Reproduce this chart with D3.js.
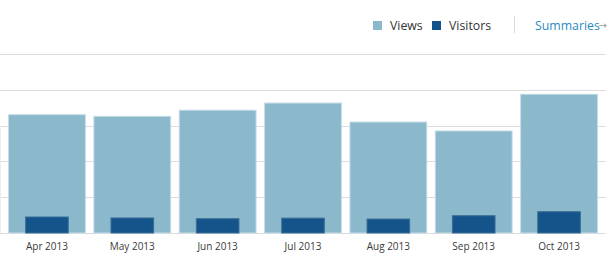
<!DOCTYPE html>
<html lang="en">
<head>
    <meta charset="UTF-8">
    <title>Views and Visitors</title>
    <script src="https://cdn.jsdelivr.net/npm/d3@7"></script>
    <style>
        body { margin: 0; background: #fff; }
        text { font-family: "Open Sans", sans-serif; }
    </style>
</head>
<body>
    <svg width="611" height="258" id="mainsvg"></svg>
    <script>
        // data
        const months = ['Apr 2013', 'May 2013', 'Jun 2013', 'Jul 2013', 'Aug 2013', 'Sep 2013', 'Oct 2013'];
        const views = [3305, 3260, 3430, 3630, 3100, 2850, 3875];
        const visitors = [447, 420, 400, 415, 390, 483, 595];
        const gridTicks = [0, 1000, 2000, 3000, 4000, 5000];

        const svg = d3.select('#mainsvg');
        const plot = { left: 0, right: 606, top: 54, bottom: 233 };

        const xScale = d3.scaleBand().domain(months)
            .range([plot.left, plot.right]).paddingInner(0.1).paddingOuter(0.1);
        const yScale = d3.scaleLinear().domain([0, 5000]).range([plot.bottom, plot.top]);

        // grid
        svg.append('g').selectAll('line').data(gridTicks).join('line')
            .attr('x1', plot.left).attr('x2', plot.right)
            .attr('y1', d => Math.round(yScale(d)) + 0.5).attr('y2', d => Math.round(yScale(d)) + 0.5)
            .attr('stroke', '#dcdcdc').attr('stroke-width', 1);
        svg.append('line').attr('x1', 0.5).attr('x2', 0.5)
            .attr('y1', yScale(3000)).attr('y2', plot.bottom)
            .attr('stroke', '#ececec');

        // views bars
        const bw = xScale.bandwidth();
        svg.append('g').selectAll('rect').data(months).join('rect')
            .attr('x', d => xScale(d))
            .attr('y', (d, i) => yScale(views[i]))
            .attr('width', bw)
            .attr('height', (d, i) => plot.bottom - yScale(views[i]))
            .attr('fill', '#8cb8cb').attr('stroke', '#c4dce6').attr('stroke-width', 1);

        // visitors bars
        const vw = bw * 0.555;
        svg.append('g').selectAll('rect').data(months).join('rect')
            .attr('x', d => xScale(d) + (bw - vw) / 2)
            .attr('y', (d, i) => yScale(visitors[i]))
            .attr('width', vw)
            .attr('height', (d, i) => plot.bottom - yScale(visitors[i]))
            .attr('fill', '#15548a').attr('stroke', '#3b6f98').attr('stroke-width', 1);

        // x labels
        svg.append('g').selectAll('text').data(months).join('text')
            .attr('x', d => xScale(d) + bw / 2).attr('y', 250)
            .attr('text-anchor', 'middle').attr('font-size', '10px').attr('fill', '#3a3a3a')
            .text(d => d);

        // legend
        const legend = svg.append('g');
        const items = [
            { name: 'Views', color: '#8cb8cb', x: 373 },
            { name: 'Visitors', color: '#15548a', x: 432 }
        ];
        legend.selectAll('rect').data(items).join('rect')
            .attr('x', d => d.x).attr('y', 21).attr('width', 9).attr('height', 9)
            .attr('fill', d => d.color);
        legend.selectAll('text').data(items).join('text')
            .attr('x', d => d.x + 17).attr('y', 29.5)
            .attr('font-size', '12.3px').attr('fill', '#333')
            .text(d => d.name);
        legend.append('line').attr('x1', 514.5).attr('x2', 514.5).attr('y1', 16).attr('y2', 33)
            .attr('stroke', '#d8d8d8');
        legend.append('text').attr('x', 535).attr('y', 29.5)
            .attr('font-size', '12.3px').attr('fill', '#2a8bbf').text('Summaries');
        legend.append('text').attr('x', 598.5).attr('y', 28.5)
            .style('font-family', '"DejaVu Sans", sans-serif')
            .attr('font-size', '10px').attr('fill', '#9a9a9a').text('→');
    </script>
</body>
</html>
